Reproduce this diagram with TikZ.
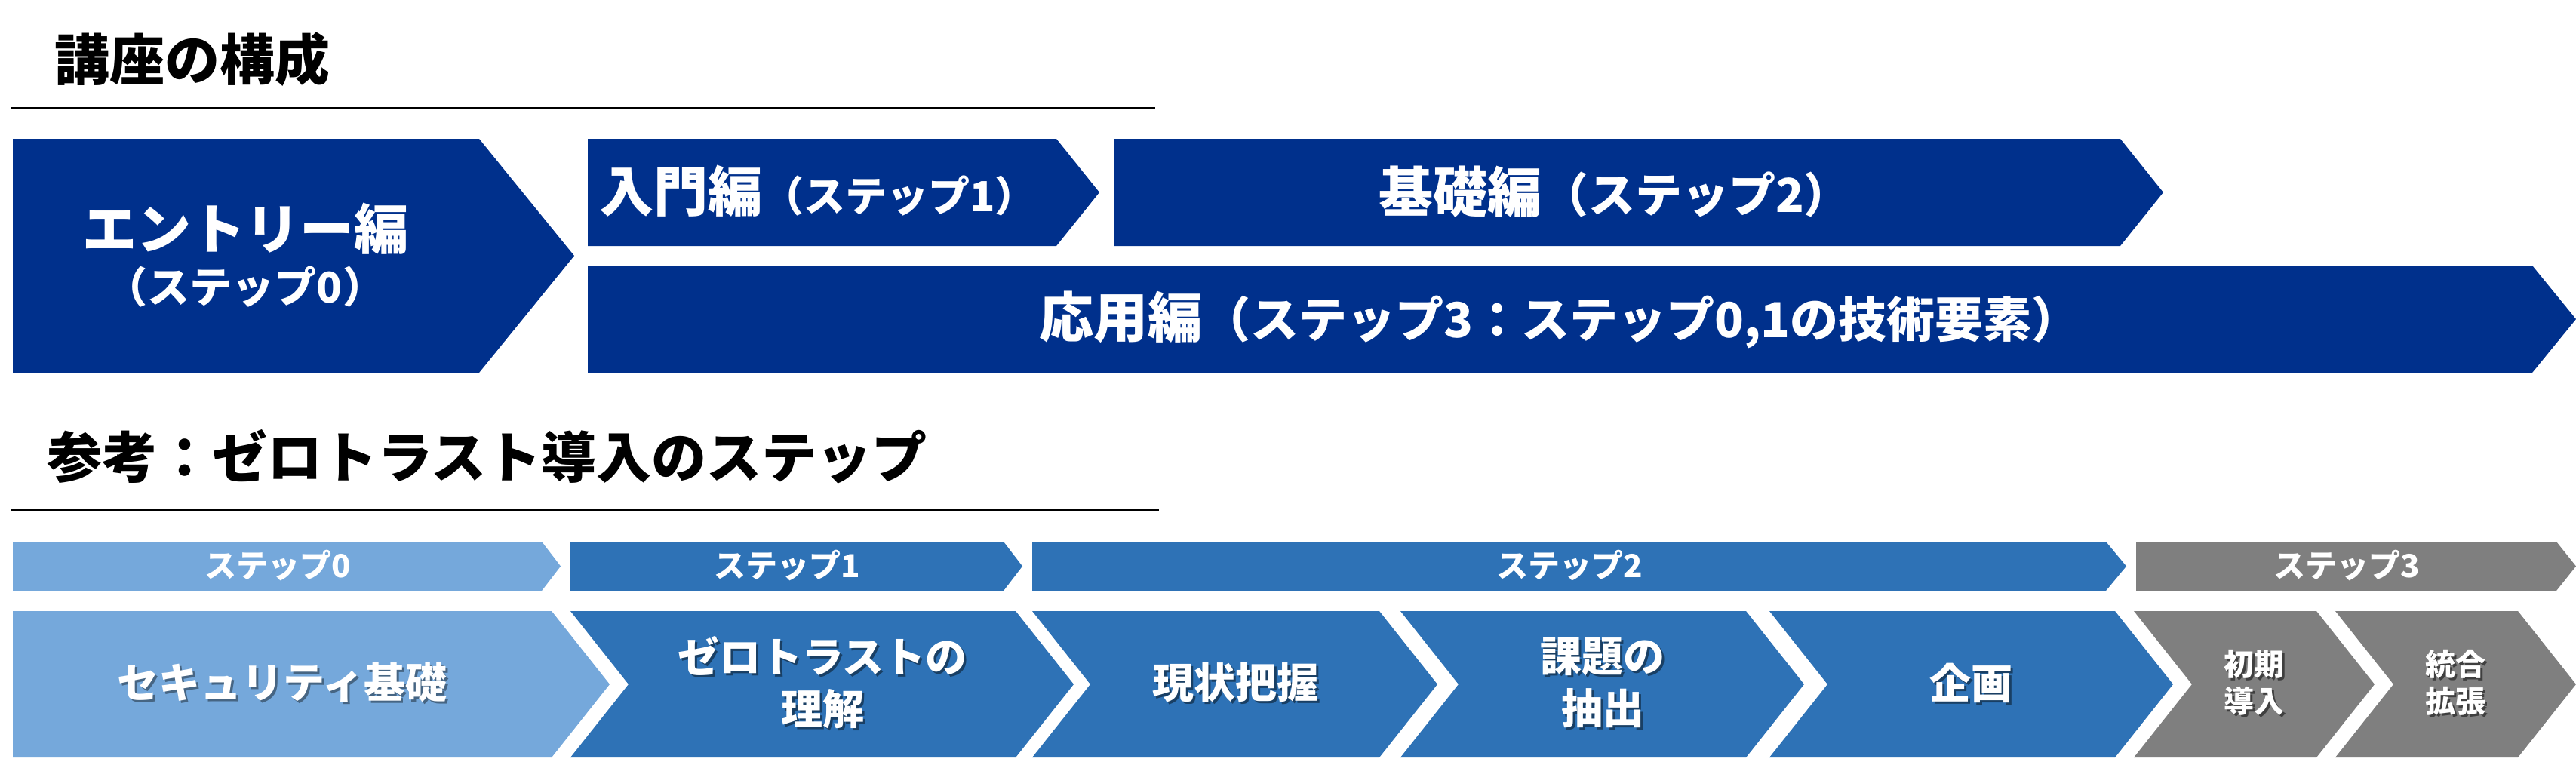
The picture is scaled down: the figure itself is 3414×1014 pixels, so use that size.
\documentclass[tikz,border=0pt]{standalone}
\usepackage{fontspec}
\setmainfont{Noto Sans CJK JP}
\definecolor{navyc}{HTML}{00308C}
\definecolor{lightc}{HTML}{75A8DB}
\definecolor{midc}{HTML}{2E72B6}
\definecolor{grayc}{HTML}{7F7F7F}
\newcommand\fs[1]{\fontsize{#1}{#1}\selectfont}
\newcommand\shd[2]{\leavevmode\rlap{\kern3pt\raisebox{-3pt}[0pt][0pt]{\color{#1}#2}}#2}
% #1 colour, #2 left, #3 tip, #4 top, #5 bottom, #6 point depth, #7 notch depth
\newcommand\chev[7]{\fill[#1] (#2,#4) -- ({#3-#6},#4) -- (#3,{(#4+#5)/2}) -- ({#3-#6},#5) -- (#2,#5) -- ({#2+#7},{(#4+#5)/2}) -- cycle;}
\begin{document}
\begin{tikzpicture}[x=1pt,y=-1pt,
  title/.style={anchor=west,font=\bfseries\fs{73},text=black,inner sep=0pt},
  boxtext/.style={font=\bfseries,text=white,inner sep=0pt},
  steptext/.style={font=\bfseries\fs{42},text=white,inner sep=0pt},
  bigtext/.style={font=\bfseries\fontsize{55}{69}\selectfont,text=white,align=center,inner sep=0pt},
  smalltext/.style={font=\bfseries\fontsize{40}{49}\selectfont,text=white,align=center,inner sep=0pt}]
\useasboundingbox (0,0) rectangle (3414,1014);
\fill[white] (0,0) rectangle (3414,1014);

% titles
\node[title] (t1) at (72,79) {講座の構成};
\draw[line width=2pt] (15,143) -- (1531,143);
\node[title] (t2) at (62,605) {参考：ゼロトラスト導入のステップ};
\draw[line width=2pt] (15,676) -- (1536,676);

% upper course blocks
\chev{navyc}{17}{761}{184}{494}{126}{0}
\chev{navyc}{779}{1457}{184}{326}{57}{0}
\chev{navyc}{1476}{2867}{184}{326}{57}{0}
\chev{navyc}{779}{3414}{352}{494}{58}{0}

\node[boxtext,font=\bfseries\fs{72}] (entry1) at (325,303) {エントリー編};
\node[boxtext,font=\bfseries\fs{56}] (entry2) at (325,380) {（ステップ0）};
\node[boxtext] (intro) at (1084,253) {{\fs{72}入門編}{\fs{55}（ステップ1）}};
\node[boxtext] (basic) at (2140,254) {{\fs{72}基礎編}{\fs{62}（ステップ2）}};
\node[boxtext] (adv) at (2067,424) {{\fs{72}応用編}{\fs{64}（ステップ3：ステップ0,1の技術要素）}};

% step labels
\chev{lightc}{17}{743}{718}{783}{25}{0}
\chev{midc}{756}{1355}{718}{783}{25}{0}
\chev{midc}{1368}{2818}{718}{783}{27}{0}
\chev{grayc}{2831}{3414}{718}{783}{26}{0}
\node[steptext] (s0) at (368,749) {ステップ0};
\node[steptext] (s1) at (1043,749) {ステップ1};
\node[steptext] (s2) at (2080,749) {ステップ2};
\node[steptext] (s3) at (3110,749) {ステップ3};

% process chevrons
\chev{lightc}{17}{808}{810}{1004}{77}{0}
\chev{midc}{756}{1423}{810}{1004}{77}{77}
\chev{midc}{1368}{1905}{810}{1004}{77}{77}
\chev{midc}{1856}{2391}{810}{1004}{77}{77}
\chev{midc}{2345}{2880}{810}{1004}{77}{77}
\chev{grayc}{2828}{3147}{810}{1004}{77}{77}
\chev{grayc}{3095}{3414}{810}{1004}{77}{77}

\node[bigtext] (p1) at (374,905) {\shd{lightc!60!black}{セキュリティ基礎}};
\node[bigtext] (p2) at (1090,905) {\shd{midc!55!black}{ゼロトラストの}\\\shd{midc!55!black}{理解}};
\node[bigtext] (p3) at (1637,905) {\shd{midc!55!black}{現状把握}};
\node[bigtext] (p4) at (2124,905) {\shd{midc!55!black}{課題の}\\\shd{midc!55!black}{抽出}};
\node[bigtext] (p5) at (2612,905) {\shd{midc!55!black}{企画}};
\node[smalltext] (p6) at (2987,905) {\shd{grayc!50!black}{初期}\\\shd{grayc!50!black}{導入}};
\node[smalltext] (p7) at (3254,905) {\shd{grayc!50!black}{統合}\\\shd{grayc!50!black}{拡張}};
\end{tikzpicture}
\end{document}
